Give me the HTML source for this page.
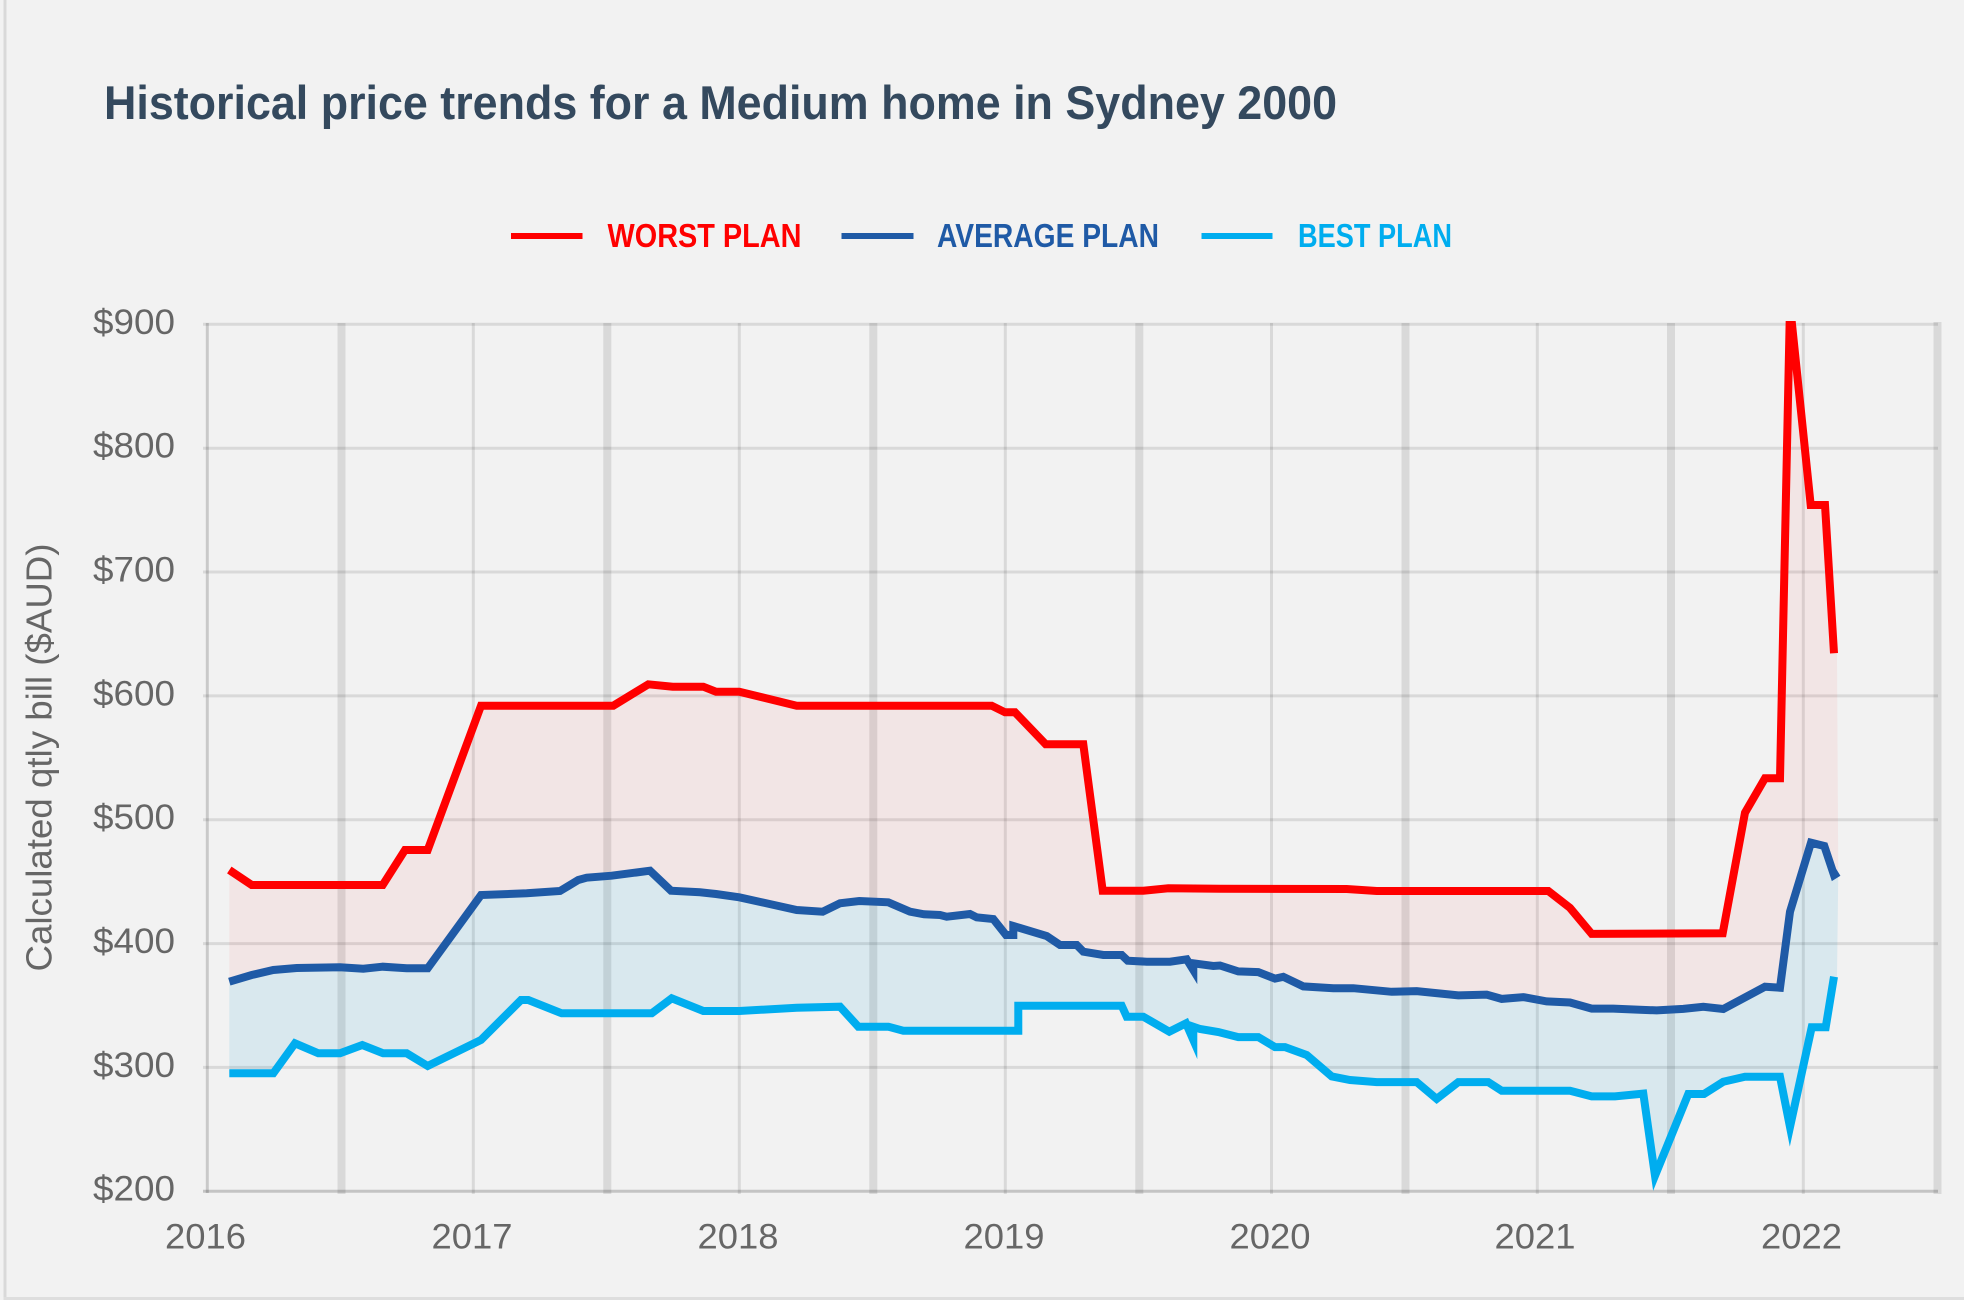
<!DOCTYPE html>
<html>
<head>
<meta charset="utf-8">
<style>
html,body{margin:0;padding:0;background:#f2f2f2;}
body{width:1964px;height:1300px;overflow:hidden;}
svg{display:block;}
</style>
</head>
<body>
<svg width="1964" height="1300" viewBox="0 0 1964 1300" xmlns="http://www.w3.org/2000/svg">
<defs>
<clipPath id="plot"><rect x="207" y="321" width="1735" height="872"/></clipPath>
</defs>
<rect x="0" y="0" width="1964" height="1300" fill="#f2f2f2"/>
<rect x="3.5" y="0" width="3" height="1300" fill="#d9d9d9"/>
<rect x="3.5" y="1297" width="1960.5" height="3" fill="#dedede"/>

<text x="104" y="119" font-family="'Liberation Sans', sans-serif" font-weight="bold" font-size="47" fill="#34495e" textLength="1233" lengthAdjust="spacingAndGlyphs">Historical price trends for a Medium home in Sydney 2000</text>

<line x1="511" y1="236" x2="582.5" y2="236" stroke="#ff0000" stroke-width="6"/>
<text x="607.5" y="247" font-family="'Liberation Sans', sans-serif" font-weight="bold" font-size="33" fill="#ff0000" textLength="194" lengthAdjust="spacingAndGlyphs">WORST PLAN</text>
<line x1="841.5" y1="236" x2="913.5" y2="236" stroke="#1f5aa6" stroke-width="6"/>
<text x="937" y="247" font-family="'Liberation Sans', sans-serif" font-weight="bold" font-size="33" fill="#1f5aa6" textLength="222" lengthAdjust="spacingAndGlyphs">AVERAGE PLAN</text>
<line x1="1201.5" y1="236" x2="1272.5" y2="236" stroke="#00adef" stroke-width="6"/>
<text x="1298" y="247" font-family="'Liberation Sans', sans-serif" font-weight="bold" font-size="33" fill="#00adef" textLength="154" lengthAdjust="spacingAndGlyphs">BEST PLAN</text>

<g stroke="rgba(0,0,0,0.1)" stroke-width="3">
<line x1="203" y1="324.3" x2="1938" y2="324.3"/>
<line x1="203" y1="448.2" x2="1938" y2="448.2"/>
<line x1="203" y1="572" x2="1938" y2="572"/>
<line x1="203" y1="695.9" x2="1938" y2="695.9"/>
<line x1="203" y1="819.7" x2="1938" y2="819.7"/>
<line x1="203" y1="943.6" x2="1938" y2="943.6"/>
<line x1="203" y1="1067.4" x2="1938" y2="1067.4"/>
<line x1="473.3" y1="323" x2="473.3" y2="1194"/>
<line x1="739.3" y1="323" x2="739.3" y2="1194"/>
<line x1="1005.3" y1="323" x2="1005.3" y2="1194"/>
<line x1="1271.5" y1="323" x2="1271.5" y2="1194"/>
<line x1="1537.3" y1="323" x2="1537.3" y2="1194"/>
<line x1="1803.3" y1="323" x2="1803.3" y2="1194"/>
</g>
<g stroke="rgba(0,0,0,0.1)" stroke-width="8">
<line x1="341.5" y1="323" x2="341.5" y2="1194"/>
<line x1="607.3" y1="323" x2="607.3" y2="1194"/>
<line x1="873.3" y1="323" x2="873.3" y2="1194"/>
<line x1="1139.3" y1="323" x2="1139.3" y2="1194"/>
<line x1="1405.5" y1="323" x2="1405.5" y2="1194"/>
<line x1="1671" y1="323" x2="1671" y2="1194"/>
<line x1="1937.5" y1="322" x2="1937.5" y2="1194"/>
</g>
<line x1="207.3" y1="323" x2="207.3" y2="1193" stroke="rgba(0,0,0,0.17)" stroke-width="3"/>
<line x1="203" y1="1191.2" x2="1938" y2="1191.2" stroke="rgba(0,0,0,0.19)" stroke-width="3"/>

<g font-family="'Liberation Sans', sans-serif" font-size="35" fill="#666666" text-anchor="end">
<text x="175" y="333.8" textLength="82" lengthAdjust="spacingAndGlyphs">$900</text>
<text x="175" y="457.7" textLength="82" lengthAdjust="spacingAndGlyphs">$800</text>
<text x="175" y="581.5" textLength="82" lengthAdjust="spacingAndGlyphs">$700</text>
<text x="175" y="705.4" textLength="82" lengthAdjust="spacingAndGlyphs">$600</text>
<text x="175" y="829.2" textLength="82" lengthAdjust="spacingAndGlyphs">$500</text>
<text x="175" y="953.1" textLength="82" lengthAdjust="spacingAndGlyphs">$400</text>
<text x="175" y="1076.9" textLength="82" lengthAdjust="spacingAndGlyphs">$300</text>
<text x="175" y="1200.7" textLength="82" lengthAdjust="spacingAndGlyphs">$200</text>
</g>
<g font-family="'Liberation Sans', sans-serif" font-size="35" fill="#666666" text-anchor="middle">
<text x="205.5" y="1248.3" textLength="81" lengthAdjust="spacingAndGlyphs">2016</text>
<text x="472" y="1248.3" textLength="81" lengthAdjust="spacingAndGlyphs">2017</text>
<text x="738" y="1248.3" textLength="81" lengthAdjust="spacingAndGlyphs">2018</text>
<text x="1004" y="1248.3" textLength="81" lengthAdjust="spacingAndGlyphs">2019</text>
<text x="1270" y="1248.3" textLength="81" lengthAdjust="spacingAndGlyphs">2020</text>
<text x="1535" y="1248.3" textLength="81" lengthAdjust="spacingAndGlyphs">2021</text>
<text x="1801.5" y="1248.3" textLength="81" lengthAdjust="spacingAndGlyphs">2022</text>
</g>
<text transform="translate(51.7,757.5) rotate(-90)" x="0" y="0" text-anchor="middle" font-family="'Liberation Sans', sans-serif" font-size="36" fill="#666666" textLength="428" lengthAdjust="spacingAndGlyphs">Calculated qtly bill ($AUD)</text>

<g clip-path="url(#plot)">
<polygon fill="rgba(255,0,0,0.05)" points="229.3,870 251.7,885 382.7,885 405,850 427.7,850 481,705.7 613.3,705.7 648.3,684.3 672.7,686.7 703.3,686.7 716,691.7 739.3,691.7 796.7,705.7 991.7,705.7 1005,712.3 1015,712.3 1045.7,744.3 1083.3,744.3 1102.7,890.7 1143.3,890.7 1168.3,888.3 1220,888.8 1346.7,889 1376.7,891 1548.3,891 1570,907.9 1591.7,933.9 1722.7,933.3 1745,812.7 1765,778.3 1780,778.3 1790,305 1810.7,505 1825,505 1834,653.3 1837,653.3 1838.3,872.3 1834,875 1824.3,846 1811,842.7 1790,911.7 1780,987.7 1765,986.7 1723.3,1009 1703.3,1006.8 1683.3,1008.9 1656.7,1010.4 1636.7,1009.6 1613.3,1008.6 1591.7,1008.6 1570,1002.5 1546.7,1001.4 1523.3,997.1 1501.7,998.9 1486.7,994.6 1458.3,995.4 1416.7,991.1 1391.7,991.8 1353.3,988.2 1333.3,988.2 1303.3,986.4 1283.3,976.8 1275,978.6 1258.3,972.1 1238.3,971.4 1220,965.5 1213.3,966 1193.3,963.3 1186.7,959.3 1170,961.7 1146.7,961.7 1127.7,960.7 1121.7,955 1103.3,955 1083.3,951.7 1076.7,945 1060,945 1046.7,936 1020,928 1013.3,926 1013.3,935 1006,935 993.3,919 976.7,917.3 970,914 946.7,916.7 940,915 924,914.3 910,911.7 888.3,902.3 859.3,901 840,903.3 822.7,911.7 796.7,910 739.3,897.3 716,894 700,892.3 671,890.7 650,870.7 611.7,875.7 586.7,877.7 578.3,880 560,891 526.7,893.3 481,895 427.7,968.3 406.7,968.3 382.7,966.7 363.3,968.7 340,967.3 296.7,968 273.3,970 251.7,975 229.3,981.7"/>
<polygon fill="rgba(0,150,210,0.1)" points="229.3,981.7 251.7,975 273.3,970 296.7,968 340,967.3 363.3,968.7 382.7,966.7 406.7,968.3 427.7,968.3 481,895 526.7,893.3 560,891 578.3,880 586.7,877.7 611.7,875.7 650,870.7 671,890.7 700,892.3 716,894 739.3,897.3 796.7,910 822.7,911.7 840,903.3 859.3,901 888.3,902.3 910,911.7 924,914.3 940,915 946.7,916.7 970,914 976.7,917.3 993.3,919 1006,935 1013.3,935 1013.3,926 1020,928 1046.7,936 1060,945 1076.7,945 1083.3,951.7 1103.3,955 1121.7,955 1127.7,960.7 1146.7,961.7 1170,961.7 1186.7,959.3 1193.3,963.3 1213.3,966 1220,965.5 1238.3,971.4 1258.3,972.1 1275,978.6 1283.3,976.8 1303.3,986.4 1333.3,988.2 1353.3,988.2 1391.7,991.8 1416.7,991.1 1458.3,995.4 1486.7,994.6 1501.7,998.9 1523.3,997.1 1546.7,1001.4 1570,1002.5 1591.7,1008.6 1613.3,1008.6 1636.7,1009.6 1656.7,1010.4 1683.3,1008.9 1703.3,1006.8 1723.3,1009 1765,986.7 1780,987.7 1790,911.7 1811,842.7 1824.3,846 1834,875 1838.3,872.3 1837,976.7 1834,976.7 1825.7,1027.3 1811.7,1027.3 1790,1127 1780,1076.7 1745,1076.7 1723.3,1081.7 1704,1094 1688.3,1094 1655,1175.7 1643.3,1093.6 1615,1096.4 1591.7,1096.4 1570,1090.7 1501.7,1090.7 1488.3,1082.1 1458.3,1082.1 1436.7,1098.9 1416.7,1082.1 1376.7,1082.1 1350,1080 1331.7,1076.4 1306.7,1055 1285,1047.1 1275,1047.1 1258.3,1037.1 1238.3,1037.1 1218.3,1032 1200,1029 1193.3,1026.7 1193.3,1040 1186,1023.3 1169.3,1031.7 1143.3,1016.7 1126.7,1016.7 1121.7,1005.7 1018.3,1005.7 1018.3,1030.7 903.3,1030.7 888.3,1026.7 858.3,1026.7 840,1006.7 796.7,1007.7 739.3,1011 703.3,1011 671.7,998.3 651.7,1013.3 561.7,1013.3 528.3,1000 521,1000 481,1040 427.7,1066 406.7,1053.3 383.3,1053.3 362.3,1045 340,1053.3 318.3,1053.3 295,1043.3 273.3,1073.3 229.3,1073.3"/>

<polyline fill="none" stroke="#ff0000" stroke-width="8" stroke-linejoin="miter" stroke-miterlimit="10" points="229.3,870 251.7,885 382.7,885 405,850 427.7,850 481,705.7 613.3,705.7 648.3,684.3 672.7,686.7 703.3,686.7 716,691.7 739.3,691.7 796.7,705.7 991.7,705.7 1005,712.3 1015,712.3 1045.7,744.3 1083.3,744.3 1102.7,890.7 1143.3,890.7 1168.3,888.3 1220,888.8 1346.7,889 1376.7,891 1548.3,891 1570,907.9 1591.7,933.9 1722.7,933.3 1745,812.7 1765,778.3 1780,778.3 1790,305 1810.7,505 1825,505 1834,653.3"/>
<polyline fill="none" stroke="#1f5aa6" stroke-width="8" stroke-linejoin="miter" stroke-miterlimit="10" points="229.3,981.7 251.7,975 273.3,970 296.7,968 340,967.3 363.3,968.7 382.7,966.7 406.7,968.3 427.7,968.3 481,895 526.7,893.3 560,891 578.3,880 586.7,877.7 611.7,875.7 650,870.7 671,890.7 700,892.3 716,894 739.3,897.3 796.7,910 822.7,911.7 840,903.3 859.3,901 888.3,902.3 910,911.7 924,914.3 940,915 946.7,916.7 970,914 976.7,917.3 993.3,919 1006,935 1013.3,935 1013.3,926 1020,928 1046.7,936 1060,945 1076.7,945 1083.3,951.7 1103.3,955 1121.7,955 1127.7,960.7 1146.7,961.7 1170,961.7 1186.7,959.3 1193.3,970 1193.3,963.3 1213.3,966 1220,965.5 1238.3,971.4 1258.3,972.1 1275,978.6 1283.3,976.8 1303.3,986.4 1333.3,988.2 1353.3,988.2 1391.7,991.8 1416.7,991.1 1458.3,995.4 1486.7,994.6 1501.7,998.9 1523.3,997.1 1546.7,1001.4 1570,1002.5 1591.7,1008.6 1613.3,1008.6 1636.7,1009.6 1656.7,1010.4 1683.3,1008.9 1703.3,1006.8 1723.3,1009 1765,986.7 1780,987.7 1790,911.7 1811,842.7 1824.3,846 1834,875 1838.3,872.3"/>
<polyline fill="none" stroke="#00adef" stroke-width="8" stroke-linejoin="miter" stroke-miterlimit="10" points="229.3,1073.3 273.3,1073.3 295,1043.3 318.3,1053.3 340,1053.3 362.3,1045 383.3,1053.3 406.7,1053.3 427.7,1066 481,1040 521,1000 528.3,1000 561.7,1013.3 651.7,1013.3 671.7,998.3 703.3,1011 739.3,1011 796.7,1007.7 840,1006.7 858.3,1026.7 888.3,1026.7 903.3,1030.7 1018.3,1030.7 1018.3,1005.7 1121.7,1005.7 1126.7,1016.7 1143.3,1016.7 1169.3,1031.7 1186,1023.3 1193.3,1040 1193.3,1026.7 1200,1029 1218.3,1032 1238.3,1037.1 1258.3,1037.1 1275,1047.1 1285,1047.1 1306.7,1055 1331.7,1076.4 1350,1080 1376.7,1082.1 1416.7,1082.1 1436.7,1098.9 1458.3,1082.1 1488.3,1082.1 1501.7,1090.7 1570,1090.7 1591.7,1096.4 1615,1096.4 1643.3,1093.6 1655,1175.7 1688.3,1094 1704,1094 1723.3,1081.7 1745,1076.7 1780,1076.7 1790,1127 1811.7,1027.3 1825.7,1027.3 1834,976.7"/>
</g>
</svg>
</body>
</html>
